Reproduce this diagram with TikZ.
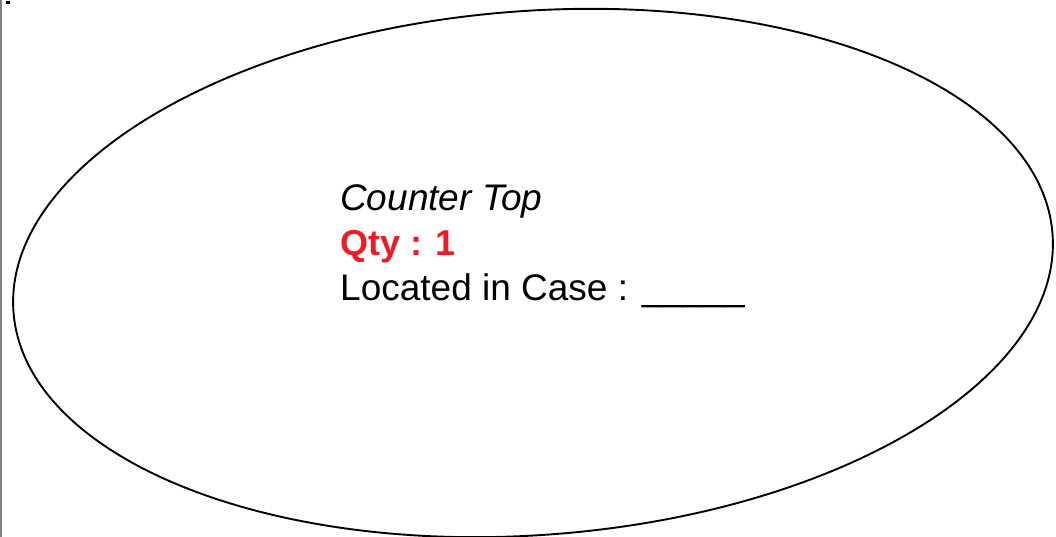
\documentclass[tikz,border=0pt]{standalone}
\usepackage{fontspec}
\setmainfont{Liberation Sans}
\usepackage{tikz}
\definecolor{qtyred}{RGB}{237,28,36}
\tikzset{
  itemtext/.style={anchor=base west, inner sep=0pt, font=\fontsize{37pt}{45pt}\selectfont}
}

\begin{document}
\begin{tikzpicture}[x=1pt, y=1pt]
			%%%%% START %%%%%
			
			\useasboundingbox (0, 0) rectangle (1056, 537);
			
			\draw[line width=1.5pt, color=black!50] (0.75, 0) -- (0.75, 537);
			\draw[fill=black] (6, 534) rectangle (9, 536);
			
			\draw[line width=1.9pt, rotate around={4.3:(533, 264)}] (533, 264) ellipse [x radius=521pt, y radius=262pt];
			
			\node[itemtext] (name) at (340, 326) {\itshape Counter Top};
			\node[itemtext, color=qtyred, font=\fontsize{36pt}{45pt}\selectfont] (qty) at (340, 281) {\bfseries Qty : 1};
			\node[itemtext] (case) at (340, 236) {Located in Case : \_\_\_\_\_};
			
			%%%%% END %%%%%
		\end{tikzpicture}
\end{document}
